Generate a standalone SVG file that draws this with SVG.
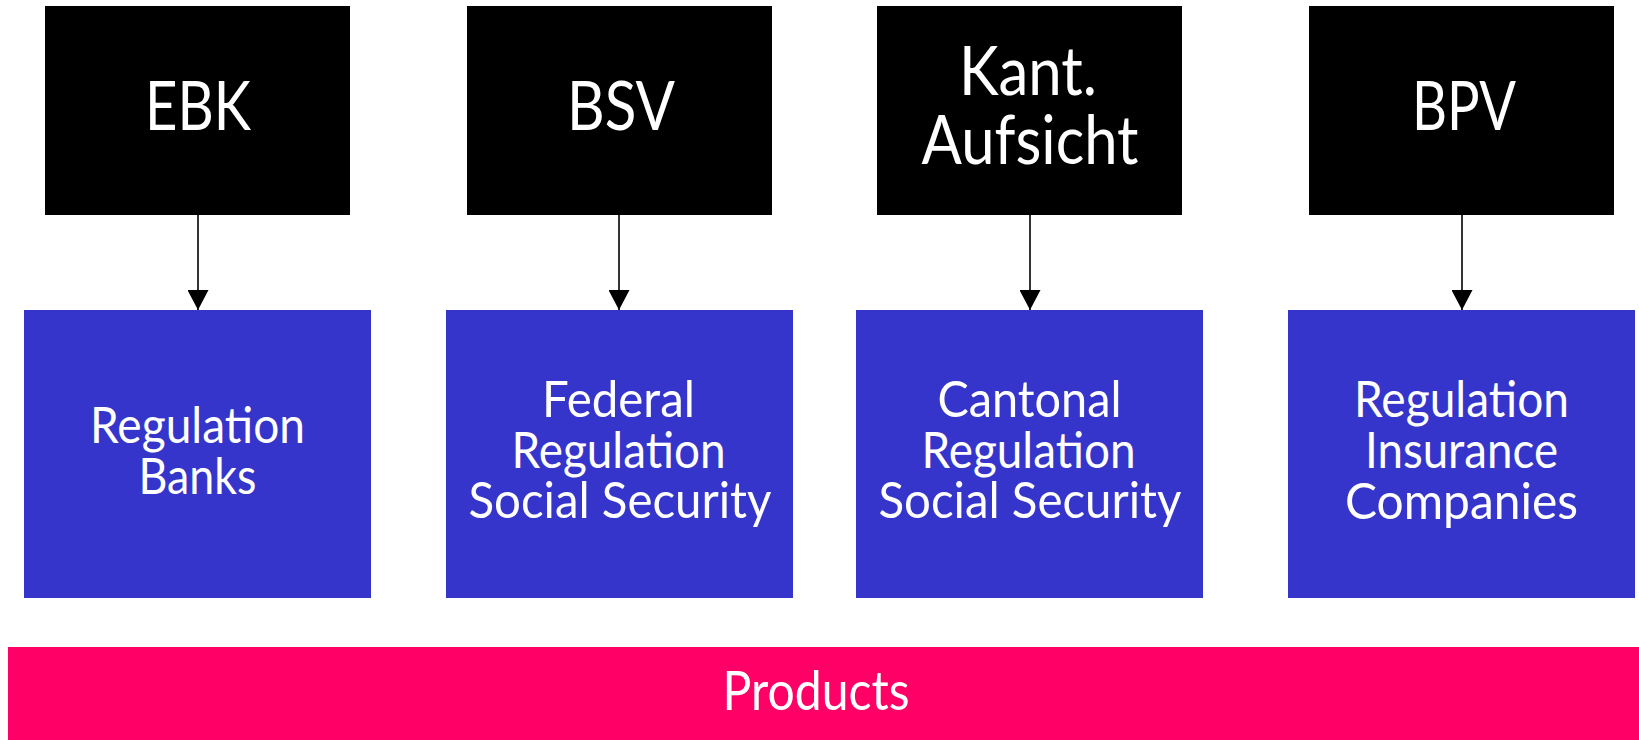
<svg xmlns="http://www.w3.org/2000/svg" width="1639" height="740" viewBox="0 0 1639 740">
  <style>
    .authority { fill: #000000; }
    .domain { fill: #3535CC; }
    .bar { fill: #FF0066; }
    text { font-family: Lato, "Liberation Sans", sans-serif; font-weight: 400; fill: #FFFFFF; text-anchor: middle; }
    .big { font-size: 68px; }
    .mid { font-size: 50px; }
    .prod { font-size: 54px; }
    .link { stroke: #000000; stroke-width: 1.6; fill: none; }
  </style>
  <defs>
    <!-- arrowhead drawn along +x so orient="auto" turns it to follow the line -->
    <marker id="head" viewBox="0 0 20 21" refX="20" refY="10.5" markerWidth="20" markerHeight="21" markerUnits="userSpaceOnUse" orient="auto">
      <path d="M0,0 L20,10.5 L0,21 Z" fill="#000000"/>
    </marker>
  </defs>

  <rect width="1639" height="740" fill="#FFFFFF"/>

  <!-- supervisory authorities -->
  <g id="ebk">
    <rect class="authority" x="45" y="6" width="305" height="209"/>
    <text class="big" x="198" y="130" textLength="106" lengthAdjust="spacingAndGlyphs">EBK</text>
  </g>
  <g id="bsv">
    <rect class="authority" x="467" y="6" width="305" height="209"/>
    <text class="big" x="621" y="130" textLength="108" lengthAdjust="spacingAndGlyphs">BSV</text>
  </g>
  <g id="kant">
    <rect class="authority" x="877" y="6" width="305" height="209"/>
    <text class="big" x="1028" y="95" textLength="138" lengthAdjust="spacingAndGlyphs">Kant.</text>
    <text class="big" x="1030" y="164" textLength="217" lengthAdjust="spacingAndGlyphs">Aufsicht</text>
  </g>
  <g id="bpv">
    <rect class="authority" x="1309" y="6" width="305" height="209"/>
    <text class="big" x="1464" y="130" textLength="104" lengthAdjust="spacingAndGlyphs">BPV</text>
  </g>

  <!-- regulated domains -->
  <g id="banks">
    <rect class="domain" x="24" y="310" width="347" height="288"/>
    <text class="mid" x="197.5" y="443" textLength="215" lengthAdjust="spacingAndGlyphs">Regulation</text>
    <text class="mid" x="197.5" y="494" textLength="118" lengthAdjust="spacingAndGlyphs">Banks</text>
  </g>
  <g id="federal">
    <rect class="domain" x="446" y="310" width="347" height="288"/>
    <text class="mid" x="618.5" y="417" textLength="153" lengthAdjust="spacingAndGlyphs">Federal</text>
    <text class="mid" x="618.5" y="468" textLength="214" lengthAdjust="spacingAndGlyphs">Regulation</text>
    <text class="mid" x="620" y="518" textLength="303" lengthAdjust="spacingAndGlyphs">Social Security</text>
  </g>
  <g id="cantonal">
    <rect class="domain" x="856" y="310" width="347" height="288"/>
    <text class="mid" x="1029.5" y="417" textLength="184" lengthAdjust="spacingAndGlyphs">Cantonal</text>
    <text class="mid" x="1028.5" y="468" textLength="214" lengthAdjust="spacingAndGlyphs">Regulation</text>
    <text class="mid" x="1030" y="518" textLength="303" lengthAdjust="spacingAndGlyphs">Social Security</text>
  </g>
  <g id="insurance">
    <rect class="domain" x="1288" y="310" width="347" height="288"/>
    <text class="mid" x="1461.5" y="417" textLength="215" lengthAdjust="spacingAndGlyphs">Regulation</text>
    <text class="mid" x="1461.5" y="468" textLength="193" lengthAdjust="spacingAndGlyphs">Insurance</text>
    <text class="mid" x="1461.5" y="519" textLength="233" lengthAdjust="spacingAndGlyphs">Companies</text>
  </g>

  <!-- product layer -->
  <g id="products">
    <rect class="bar" x="8" y="647" width="1631" height="93"/>
    <text class="prod" x="816" y="710" textLength="187" lengthAdjust="spacingAndGlyphs">Products</text>
  </g>

  <!-- connectors -->
  <g id="connectors">
    <line class="link" x1="198" y1="215" x2="198" y2="310" marker-end="url(#head)"/>
    <line class="link" x1="619" y1="215" x2="619" y2="310" marker-end="url(#head)"/>
    <line class="link" x1="1030" y1="215" x2="1030" y2="310" marker-end="url(#head)"/>
    <line class="link" x1="1462" y1="215" x2="1462" y2="310" marker-end="url(#head)"/>
  </g>
</svg>
